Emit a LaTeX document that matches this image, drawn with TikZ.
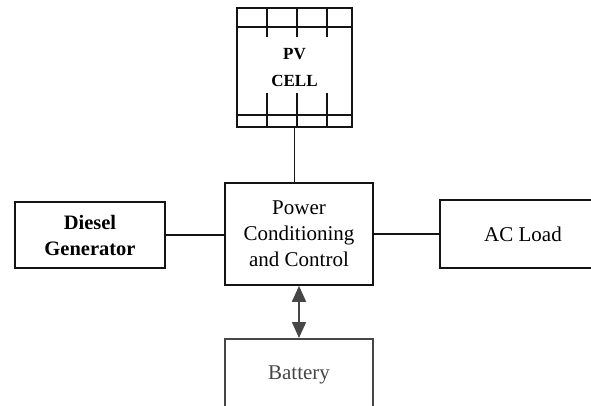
\documentclass[tikz,border=0pt]{standalone}
\usepackage{fontspec}
\setmainfont{Liberation Serif}
\usetikzlibrary{arrows.meta,positioning}
\definecolor{ink}{RGB}{20,20,20}
\definecolor{battgray}{RGB}{70,70,70}

\begin{document}
\begin{tikzpicture}[x=1pt,y=-1pt,
  block/.style={draw=ink,line width=1.6pt,fill=white,align=center,inner sep=0pt,
    font=\fontsize{21}{26}\selectfont},
  wire/.style={draw=ink,line width=1.5pt}]
  \useasboundingbox (0,0) rectangle (591,406);
  \clip (0,0) rectangle (591,406);

  \node[block,minimum width=115pt,minimum height=119pt,
    font=\bfseries\fontsize{17}{27}\selectfont] (pv) at (294.5,67.5) {PV\\CELL};
  \foreach \y in {27,115}
    \draw[wire] (237,\y) -- (352,\y);
  \foreach \x in {267,297,327}{
    \draw[wire] (\x,8) -- (\x,37);
    \draw[wire] (\x,93) -- (\x,127);
  }

  \node[block,minimum width=148pt,minimum height=102pt] (pcc) at (299,234)
    {Power\\Conditioning\\and Control};
  \node[block,minimum width=150pt,minimum height=66pt,
    font=\bfseries\fontsize{20.5}{26}\selectfont] (dg) at (90,235) {Diesel\\Generator};
  \node[block,minimum width=166pt,minimum height=68pt] (ac) at (523,234) {AC Load};
  \node[block,draw=battgray,text=battgray,anchor=north,minimum width=148pt,
    text height=41pt,text depth=40pt] (batt) at (299,338) {Battery};

  \draw[wire] (pv.south) -- (pv.south |- pcc.north);
  \draw[wire] (dg.east) -- (dg.east -| pcc.west);
  \draw[wire] (pcc.east |- ac.west) -- (ac.west);
  \draw[battgray,line width=1.6pt,
    {Triangle[length=16pt,width=14pt]}-{Triangle[length=16pt,width=14pt]}]
    (pcc.south) -- (batt.north);
\end{tikzpicture}
\end{document}
